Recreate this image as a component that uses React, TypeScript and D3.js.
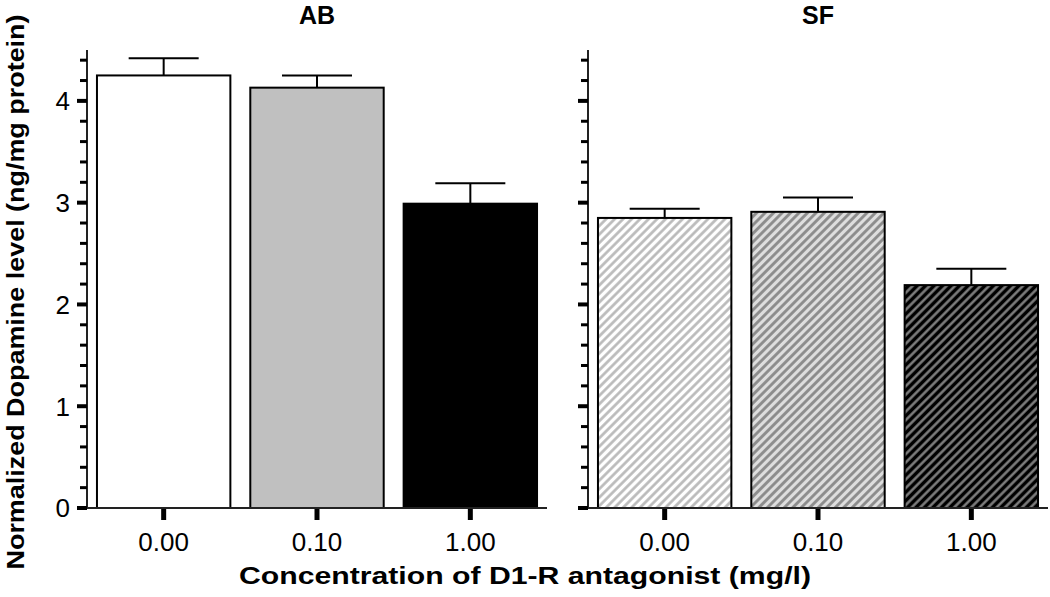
import React from "react";
import * as d3 from "d3";

const categories = ["0.00", "0.10", "1.00"];
const panelTitles = ["AB", "SF"];
const abMeans = [4.25, 4.13, 2.99];
const abErrors = [0.17, 0.12, 0.2];
const sfMeans = [2.85, 2.91, 2.19];
const sfErrors = [0.09, 0.14, 0.16];
const yMajorTicks = [0, 1, 2, 3, 4];
const yMinorTicks = d3.range(0, 4.5, 0.2).filter((v) => Math.abs(v - Math.round(v)) > 1e-6);
const yLabel = "Normalized Dopamine level (ng/mg protein)";
const xLabel = "Concentration of D1-R antagonist (mg/l)";

const W = 1050;
const H = 597;
const FONT = "Arial, 'Liberation Sans', sans-serif";

const y = d3.scaleLinear().domain([0, 4.5]).range([508, 50]);
const panelRanges: [number, number][] = [
  [87, 547],
  [588, 1048],
];

const abFills = ["#ffffff", "#c0c0c0", "#000000"];
const sfFills = ["url(#hatch0)", "url(#hatch1)", "url(#hatch2)"];

function Panel({ idx, means, errors, fills, showLabels }: any) {
  const [x0, x1] = panelRanges[idx];
  const x = d3.scaleBand<string>().domain(categories).range([x0, x1]).paddingInner(0.13).paddingOuter(0.065);
  const base = y(0);
  return (
    <g>
      <text x={(x0 + x1) / 2} y={24} textAnchor="middle" fontFamily={FONT} fontWeight="bold" fontSize={25} fill="#000">
        {panelTitles[idx]}
      </text>
      {categories.map((c, i) => {
        const bx = x(c)!;
        const bw = x.bandwidth();
        const top = y(means[i]);
        const cx = bx + bw / 2;
        const et = y(means[i] + errors[i]);
        return (
          <g key={c}>
            <line x1={cx} x2={cx} y1={top} y2={et} stroke="#000" strokeWidth={2} />
            <line x1={cx - 35} x2={cx + 35} y1={et} y2={et} stroke="#000" strokeWidth={2} />
            <rect x={bx} y={top} width={bw} height={base - top} fill={fills[i]} stroke="#000" strokeWidth={2} />
            <line x1={cx} x2={cx} y1={base} y2={base + 12} stroke="#000" strokeWidth={5} />
            <text x={cx} y={551} textAnchor="middle" fontFamily={FONT} fontSize={26} fill="#000">
              {c}
            </text>
          </g>
        );
      })}
      <line x1={x0} x2={x0} y1={y(4.5)} y2={base} stroke="#222" strokeWidth={2} />
      <line x1={x0} x2={x1} y1={base} y2={base} stroke="#222" strokeWidth={2} />
      {yMajorTicks.map((t) => (
        <g key={"M" + t}>
          <line x1={x0 - 10} x2={x0} y1={y(t)} y2={y(t)} stroke="#000" strokeWidth={4} />
          {showLabels && (
            <text x={70} y={y(t)} dy="0.36em" textAnchor="end" fontFamily={FONT} fontSize={26} fill="#000">
              {t}
            </text>
          )}
        </g>
      ))}
      {yMinorTicks.map((t) => (
        <line key={"m" + t} x1={x0 - 7} x2={x0} y1={y(t)} y2={y(t)} stroke="#000" strokeWidth={3} />
      ))}
    </g>
  );
}

export default function App() {
  return (
    <svg width={W} height={H} style={{ position: "absolute", left: 0, top: 0, background: "#fff" }}>
      <defs>
        <pattern id="hatch0" patternUnits="userSpaceOnUse" width={6} height={6} patternTransform="rotate(45)">
          <rect width={6} height={6} fill="#ffffff" />
          <line x1={1.5} x2={1.5} y1={0} y2={6} stroke="#b8b8b8" strokeWidth={2.6} />
        </pattern>
        <pattern id="hatch1" patternUnits="userSpaceOnUse" width={6} height={6} patternTransform="rotate(45)">
          <rect width={6} height={6} fill="#dedede" />
          <line x1={1.5} x2={1.5} y1={0} y2={6} stroke="#8a8a8a" strokeWidth={2.8} />
        </pattern>
        <pattern id="hatch2" patternUnits="userSpaceOnUse" width={6} height={6} patternTransform="rotate(45)">
          <rect width={6} height={6} fill="#000000" />
          <line x1={1.5} x2={1.5} y1={0} y2={6} stroke="#858585" strokeWidth={2.4} />
        </pattern>
      </defs>
      <rect width={W} height={H} fill="#fff" />
      <Panel idx={0} means={abMeans} errors={abErrors} fills={abFills} showLabels={true} />
      <Panel idx={1} means={sfMeans} errors={sfErrors} fills={sfFills} showLabels={false} />
      <text
        transform={`translate(24, 292) rotate(-90)`}
        textAnchor="middle"
        fontFamily={FONT}
        fontWeight="bold"
        fontSize={23}
        textLength={555}
        lengthAdjust="spacingAndGlyphs"
        fill="#000"
      >
        {yLabel}
      </text>
      <text
        x={525}
        y={584}
        textAnchor="middle"
        fontFamily={FONT}
        fontWeight="bold"
        fontSize={23}
        textLength={572}
        lengthAdjust="spacingAndGlyphs"
        fill="#000"
      >
        {xLabel}
      </text>
    </svg>
  );
}
